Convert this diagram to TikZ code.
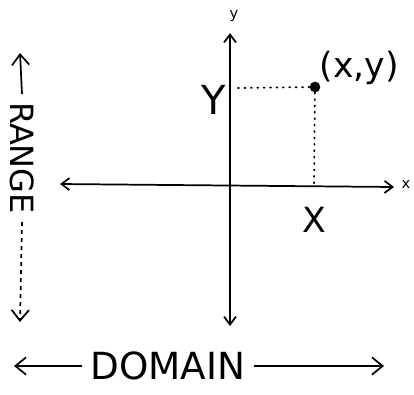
\documentclass[tikz,border=0pt]{standalone}
\usepackage{fontspec}
\setmainfont{DejaVu Sans}
\usetikzlibrary{arrows.meta}
\begin{document}
\begin{tikzpicture}[x=0.75pt,y=-0.75pt,
  axis/.style={line width=1.3pt,{Straight Barb[length=6pt,width=9pt]}-{Straight Barb[length=6pt,width=9pt]}},
  guide/.style={line width=1.3pt,dash pattern=on 0.8pt off 4pt,line cap=round},
  big/.style={inner sep=1pt,font=\fontsize{24}{26}\selectfont},
  tiny/.style={inner sep=1pt,font=\fontsize{11}{12}\selectfont},
  span/.style={line width=1.3pt,-{Straight Barb[length=8pt,width=13pt]}}]
\useasboundingbox (0,0) rectangle (414,394);
% axes
\coordinate (ytop) at (230,33);
\coordinate (ybot) at (230,326);
\coordinate (xleft) at (60,184);
\coordinate (xright) at (394,187);
\draw[axis] (ybot) -- (ytop);
\draw[axis] (xleft) -- (xright);
\node[tiny] (ylab) at (234,16) {y};
\node[tiny] (xlab) at (406,184) {x};
% point
\node[circle,fill=black,inner sep=0pt,minimum size=8pt] (p) at (315,87) {};
\node[big,anchor=west,font=\fontsize{26}{28}\selectfont] (pl) at (318,68) {(x,y)};
\node[big,font=\fontsize{30}{32}\selectfont] (Y) at (214,100) {Y};
\node[big,font=\fontsize{26}{28}\selectfont] (X) at (314,220) {X};
\coordinate (yt) at (238,88);
\coordinate (xt) at (314,185);
\draw[guide] (yt) -- (p);
\draw[guide] (p) -- (xt);
% range
\node[big,rotate=-90,inner sep=6pt] (range) at (22,158) {RANGE};
\coordinate (rtop) at (20,53);
\coordinate (rbot) at (20,322);
\draw[span] (range.west) -- (rtop);
\draw[span,dashed] (range.east) -- (rbot);
% domain
\node[big,font=\fontsize{28}{30}\selectfont,inner sep=6pt] (domain) at (168,366) {DOMAIN};
\coordinate (dleft) at (14,366);
\coordinate (dright) at (384,366);
\draw[span] (domain.west) -- (dleft);
\draw[span] (domain.east) -- (dright);
\end{tikzpicture}
\end{document}
